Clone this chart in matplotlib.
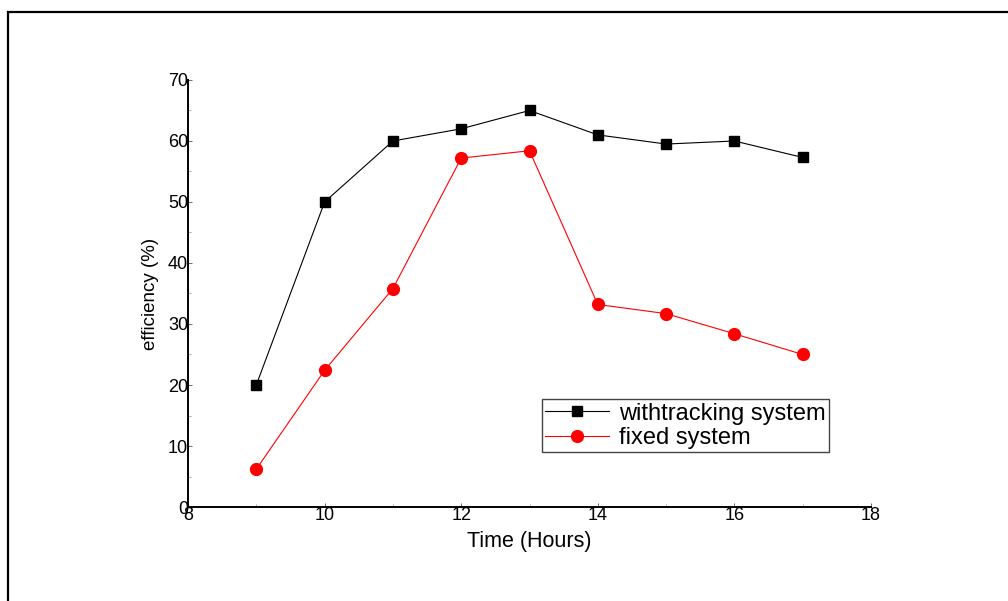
import matplotlib.pyplot as plt
from matplotlib.patches import Rectangle
from matplotlib.ticker import MultipleLocator

plt.rcParams["font.family"] = ["Liberation Sans", "DejaVu Sans"]

hours = [9, 10, 11, 12, 13, 14, 15, 16, 17]
tracking = [20, 50, 60, 62, 65, 61, 59.5, 60, 57.3]
fixed = [6.2, 22.4, 35.8, 57.2, 58.4, 33.2, 31.7, 28.4, 25.0]

fig = plt.figure(figsize=(10.08, 6.01), dpi=100)
ax = fig.add_axes([0.1865, 0.1564, 0.6776, 0.7105])

# border round the figure, cut off at right and bottom as in the original
fig.patches.append(Rectangle((8 / 1008, -0.05), 1.1, 1 - 12 / 601 + 0.05,
                             transform=fig.transFigure, fill=False,
                             edgecolor="black", linewidth=1.6, clip_on=False))

ax.plot(hours, tracking, color="black", linewidth=0.8, marker="s",
        markersize=7, label="withtracking system")
ax.plot(hours, fixed, color="red", linewidth=0.8, marker="o",
        markersize=8.5, label="fixed system")

ax.set_xlim(8, 18)
ax.set_ylim(0, 70)
ax.xaxis.set_major_locator(MultipleLocator(2))
ax.xaxis.set_minor_locator(MultipleLocator(1))
ax.yaxis.set_major_locator(MultipleLocator(10))
ax.yaxis.set_minor_locator(MultipleLocator(5))

for side in ["top", "right"]:
    ax.spines[side].set_visible(False)
for side in ["left", "bottom"]:
    ax.spines[side].set_linewidth(1.4)

ax.tick_params(which="major", direction="in", length=3, width=0.6,
               labelsize=13, pad=0, color="#555555")
ax.tick_params(which="minor", direction="in", length=2, width=0.5,
               color="#888888")

ax.set_xlabel("Time (Hours)", fontsize=15.5, labelpad=5)
ax.set_ylabel("efficiency (%)", fontsize=13.5, labelpad=6)

ax.legend(loc="upper left", bbox_to_anchor=(0.518, 0.253), borderaxespad=0,
          fontsize=17, frameon=True, fancybox=False, edgecolor="#444444",
          framealpha=1, handlelength=2.7, handletextpad=0.4,
          borderpad=0.15, labelspacing=0.1)

fig.savefig("out.png", dpi=100)
